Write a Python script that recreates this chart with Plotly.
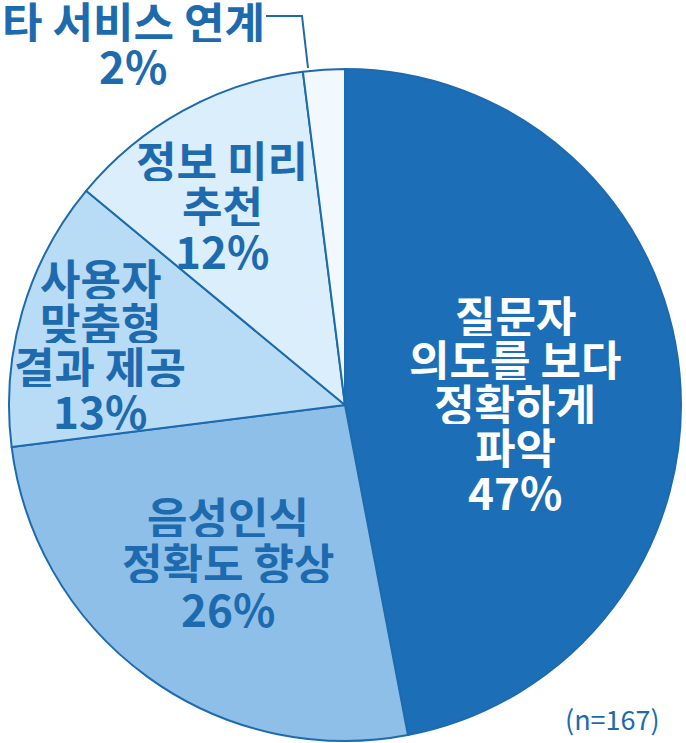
import plotly.graph_objects as go

W, H = 686, 743
categories = ["질문자 의도를 보다 정확하게 파악", "음성인식 정확도 향상", "사용자 맞춤형 결과 제공", "정보 미리 추천", "타 서비스 연계"]
values = [47, 26, 13, 12, 2]
label_lines = [["질문자", "의도를 보다", "정확하게", "파악", "47%"],
               ["음성인식", "정확도 향상", "26%"],
               ["사용자", "맞춤형", "결과 제공", "13%"],
               ["정보 미리", "추천", "12%"],
               ["타 서비스 연계", "2%"]]
colors = ["#1c6fb7", "#8dbfe8", "#b8dbf6", "#daeefc", "#f1f9ff"]
txt_colors = ["#ffffff", "#1d6aae", "#1d6aae", "#1d6aae", "#1d6aae"]
note = "(n=167)"

# label anchor (pixel) positions: center x, first line y, line step
label_pos = [(515, 315, 44), (228, 516, 46), (100, 278, 44), (222, 160, 45), (133, 21, 44)]

fig = go.Figure(go.Pie(
    labels=categories, values=values, sort=False, direction="clockwise", rotation=0,
    marker=dict(colors=colors, line=dict(color="#1d6aae", width=2)),
    textinfo="none", hoverinfo="label+percent",
    domain=dict(x=[8 / W, 682 / W], y=[2 / H, 674 / H]),
))

ann = []
for lines, (cx, y0, step), col in zip(label_lines, label_pos, txt_colors):
    for i, t in enumerate(lines):
        ann.append(dict(x=cx / W, y=1 - (y0 + i * step) / H, xref="paper", yref="paper",
                        text=t, showarrow=False, xanchor="center", yanchor="middle",
                        height=42, valign="middle",
                        font=dict(family="Noto Sans CJK KR", size=44, color=col, weight="bold")))
ann.append(dict(x=612 / W, y=1 - 718 / H, xref="paper", yref="paper", text=note, showarrow=False,
                xanchor="center", yanchor="middle",
                font=dict(family="Noto Sans CJK KR", size=27, color="#1d6aae")))

fig.update_layout(
    width=W, height=H, margin=dict(l=0, r=0, t=0, b=0),
    paper_bgcolor="white", plot_bgcolor="white", showlegend=False,
    annotations=ann,
    shapes=[dict(type="path", xref="paper", yref="paper",
                 path=f"M {266 / W} {1 - 16 / H} L {302 / W} {1 - 16 / H} L {308 / W} {1 - 68 / H}",
                 line=dict(color="#1d6aae", width=2))],
)
fig.write_html("out.html")
